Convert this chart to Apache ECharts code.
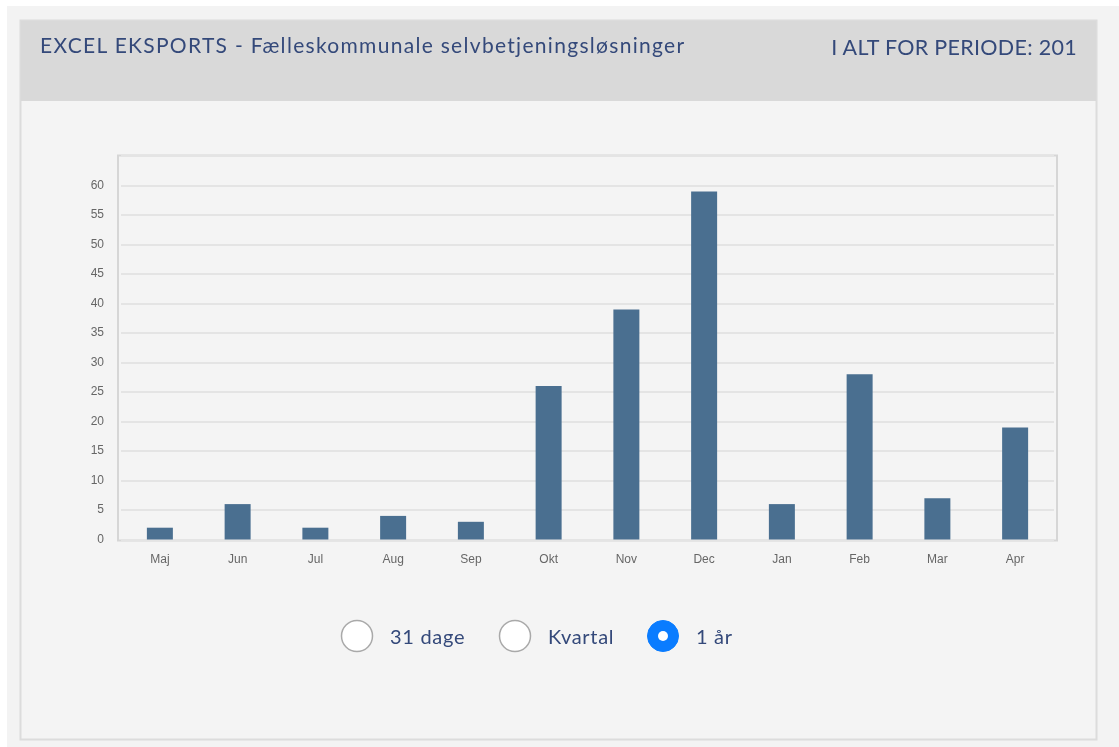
<!DOCTYPE html>
<html>
<head>
<meta charset="utf-8">
<script src="https://cdn.jsdelivr.net/npm/echarts@6/dist/echarts.min.js"></script>
<style>
html,body{margin:0;padding:0;background:#fff;}
#wrap{position:relative;width:1119px;height:747px;}
#chart{width:1119px;height:747px;}
.lbl{position:absolute;color:#34497a;font-family:Lato,"Open Sans",sans-serif;white-space:nowrap;line-height:1;}
</style>
</head>
<body>
<div id="wrap">
  <div id="chart"></div>
</div>
<script>
const months = ['Maj','Jun','Jul','Aug','Sep','Okt','Nov','Dec','Jan','Feb','Mar','Apr']
const counts = [2,6,2,4,3,26,39,59,6,28,7,19]
const options = ['31 dage','Kvartal','1 år']
const selected = 2

const titleText = 'EXCEL EKSPORTS - Fælleskommunale selvbetjeningsløsninger'
const totalText = 'I ALT FOR PERIODE: ' + counts.reduce((a,b)=>a+b,0)

const wrap = document.getElementById('wrap')
function addLabel(text, css){
    const d = document.createElement('div')
    d.className = 'lbl'
    d.textContent = text
    Object.assign(d.style, css)
    wrap.appendChild(d)
}

addLabel(titleText,{left:'40px',top:'34px',fontSize:'21px',letterSpacing:'1.3px'})
addLabel(totalText,{right:'42px',top:'37px',fontSize:'21.5px',letterSpacing:'0.3px'})

const radioX = [357, 515, 663]
const radios = []
options.forEach((name,i)=>{
    const on = i===selected
    radios.push({
        type:'circle',
        shape:{cx:radioX[i],cy:636,r:15.5},
        style:{fill:on?'#0a7cff':'#fff',stroke:on?'#0a7cff':'#a9a9a9',lineWidth:on?1:1.5}
    })
    if(on){
        radios.push({type:'circle',shape:{cx:radioX[i],cy:636,r:5},style:{fill:'#fff'}})
    }
    addLabel(name,{left:(radioX[i]+33)+'px',top:'626px',fontSize:'20px',letterSpacing:'0.7px'})
})

const chart = echarts.init(document.getElementById('chart'))

const option = {
    animation:false,
    graphic:[
        {type:'rect',shape:{x:7,y:6,width:1112,height:741},style:{fill:'#f3f3f3'},z:-10},
        {type:'rect',shape:{x:20.5,y:20.5,width:1076,height:719},style:{fill:'#f4f4f4',stroke:'#dcdcdc',lineWidth:2},z:-9},
        {type:'rect',shape:{x:21,y:21,width:1075,height:80},style:{fill:'#d9d9d9'},z:-8},
        {type:'rect',shape:{x:118,y:155.5,width:939,height:385},style:{fill:'none',stroke:'#d6d6d6',lineWidth:2},z:-5},
        ...radios
    ],
    grid:{left:121,right:65,top:156,bottom:207.5},
    xAxis:{
        type:'category',
        data:months,
        axisLine:{show:false},
        axisTick:{show:false},
        axisLabel:{color:'#666',fontSize:12,fontFamily:'Arial, "Liberation Sans"',margin:14}
    },
    yAxis:{
        type:'value',
        min:0,max:65,interval:5,
        axisLine:{show:false},
        axisTick:{show:false},
        axisLabel:{
            color:'#666',fontSize:12,fontFamily:'Arial, "Liberation Sans"',margin:17,
            formatter:v=>v>60?'':v
        },
        splitLine:{lineStyle:{color:'#e4e4e4',width:2}}
    },
    series:[{
        type:'bar',
        data:counts,
        barWidth:26,
        itemStyle:{color:'#4a6f90'}
    }]
}

chart.setOption(option)
</script>
</body>
</html>
